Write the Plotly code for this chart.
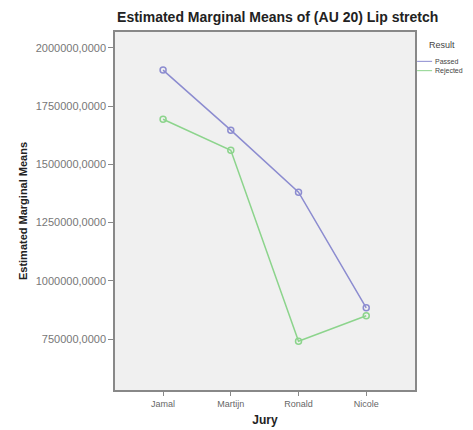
import plotly.graph_objects as go

jury = ["Jamal", "Martijn", "Ronald", "Nicole"]
passed = [1905000, 1647000, 1381000, 884000]
rejected = [1694000, 1561000, 741000, 850000]
series_names = ["Passed", "Rejected"]
y_ticks = [750000, 1000000, 1250000, 1500000, 1750000, 2000000]
y_tick_labels = ["750000,0000", "1000000,0000", "1250000,0000",
                 "1500000,0000", "1750000,0000", "2000000,0000"]

blue = "#8c8cd0"
green = "#8cd48c"
font = "Liberation Sans"

fig = go.Figure()
for name, vals, col in [(series_names[0], passed, blue), (series_names[1], rejected, green)]:
    fig.add_trace(go.Scatter(
        x=list(range(len(jury))), y=vals, mode="lines+markers", name=name,
        line=dict(color=col, width=1.5),
        marker=dict(symbol="circle-open", size=6, color=col, line=dict(width=1.5)),
        showlegend=False,
    ))

# page body has an 8px margin, so the figure is sized to fit the 473x430 window
fig.update_layout(
    width=465, height=422,
    margin=dict(l=107, r=58, t=24, b=40, autoexpand=False),
    paper_bgcolor="white", plot_bgcolor="#f0f0f0",
    font=dict(family=font, color="#555"),
    title=dict(text="<b>Estimated Marginal Means of (AU 20) Lip stretch</b>",
               x=0.58, xanchor="center", y=0.979, yanchor="middle",
               font=dict(size=14, color="#222", family=font)),
)
fig.update_xaxes(
    range=[-0.71, 3.72], tickmode="array", tickvals=list(range(len(jury))), ticktext=jury,
    showgrid=False, zeroline=False, showline=True, linecolor="#888", linewidth=1.5, mirror=True,
    ticks="outside", ticklen=4, tickcolor="#888", tickfont=dict(size=9, color="#666"),
    title=dict(text="<b>Jury</b>", font=dict(size=12, color="#222"), standoff=8),
    automargin=False,
)
fig.update_yaxes(
    range=[531300, 2068600], tickmode="array", tickvals=y_ticks, ticktext=y_tick_labels,
    showgrid=False, zeroline=False, showline=True, linecolor="#888", linewidth=1.5, mirror=True,
    ticks="outside", ticklen=5, tickcolor="#888", tickfont=dict(size=11, color="#777"),
    title=dict(text="<b>Estimated Marginal Means</b>", font=dict(size=11, color="#222"), standoff=6),
    automargin=False,
)

# legend drawn manually at the right side
fig.add_annotation(xref="paper", yref="paper", x=1.04, y=0.965, text="Result",
                   showarrow=False, xanchor="left", yanchor="middle",
                   font=dict(size=9, color="#444"))
for i, (name, col) in enumerate(zip(series_names, [blue, green])):
    yy = 0.918 - i * 0.026
    fig.add_shape(type="line", xref="paper", yref="paper", x0=1.007, x1=1.057, y0=yy, y1=yy,
                  line=dict(color=col, width=1))
    fig.add_annotation(xref="paper", yref="paper", x=1.06, y=yy, text=name,
                       showarrow=False, xanchor="left", yanchor="middle",
                       font=dict(size=7, color="#444"))

fig.write_html("out.html")
